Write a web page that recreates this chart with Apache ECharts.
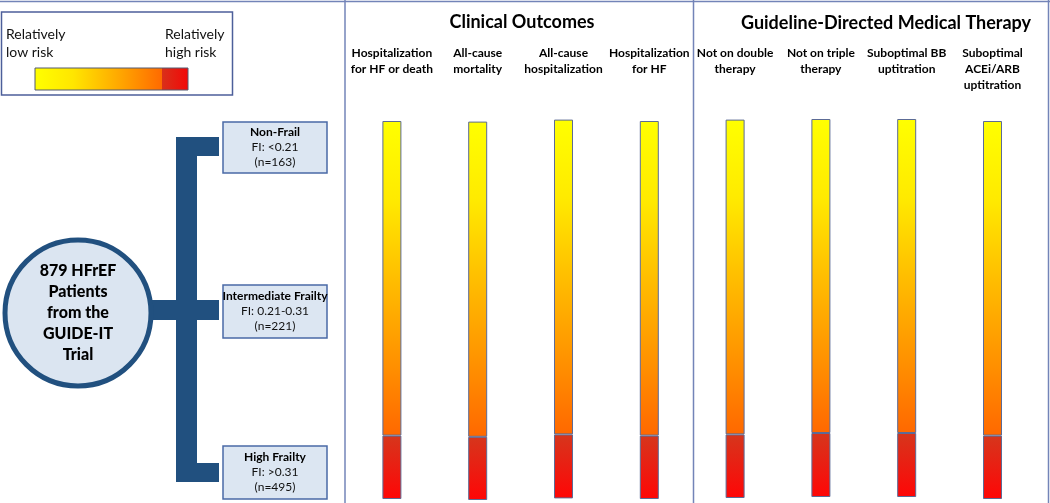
<!DOCTYPE html>
<html>
<head>
<meta charset="utf-8">
<script src="https://cdn.jsdelivr.net/npm/echarts@6/dist/echarts.min.js"></script>
<style>html,body{margin:0;padding:0;background:#fff}#c{width:1050px;height:503px}</style>
</head>
<body>
<div id="c"></div>
<script>
// ---- data ----
var outcomeLabels = [
  'Hospitalization\nfor HF or death', 'All-cause\nmortality', 'All-cause\nhospitalization', 'Hospitalization\nfor HF',
  'Not on double\ntherapy', 'Not on triple\ntherapy', 'Suboptimal BB\nuptitration', 'Suboptimal\nACEi/ARB\nuptitration'
];
var sectionTitles = ['Clinical Outcomes', 'Guideline-Directed Medical Therapy'];
// risk scale positions (0 = top of panel, 100 = bottom)
var barTop    = [5.25, 5.4, 4.9, 5.25, 4.9, 4.75, 4.75, 5.25];
var redStart  = [83.9, 84.2, 83.6, 83.9, 83.6, 83.25, 83.25, 83.9];
var barBottom = [99.75, 100, 99.6, 99.75, 99.5, 99.25, 99.25, 99.75];
var groupNames = ['Non-Frail', 'Intermediate Frailty', 'High Frailty'];
var groupFI = ['FI: <0.21', 'FI: 0.21-0.31', 'FI: >0.31'];
var groupN = [163, 221, 495];
var cohortLabel = '879 HFrEF\nPatients\nfrom the\nGUIDE-IT\nTrial';
var legendLow = 'Relatively\nlow risk';
var legendHigh = 'Relatively\nhigh risk';

// ---- derived ----
var gradSeg = barTop.map(function (t, i) { return +(redStart[i] - t).toFixed(2); });
var redSeg = redStart.map(function (r, i) { return +(barBottom[i] - r).toFixed(2); });

var FONT = 'Lato, "Noto Sans", sans-serif';
var BLUE = '#21507f';
var LINE = '#7384b8';

var chart = echarts.init(document.getElementById('c'), null, { renderer: 'canvas' });

var yellowOrange = new echarts.graphic.LinearGradient(0, 0, 0, 1, [
  { offset: 0, color: '#ffff00' },
  { offset: 0.25, color: '#ffea00' },
  { offset: 0.5, color: '#ffbe00' },
  { offset: 0.8, color: '#ff8c00' },
  { offset: 1, color: '#ff6800' }
]);
var redGrad = new echarts.graphic.LinearGradient(0, 0, 0, 1, [
  { offset: 0, color: '#d6361c' },
  { offset: 0.5, color: '#ea1e12' },
  { offset: 1, color: '#ff0606' }
]);

var boxTops = [122, 285, 446];
var boxHeights = [51, 53, 53];
var graphics = [];
// frame lines
graphics.push({ type: 'line', shape: { x1: 0, y1: 1.5, x2: 1050, y2: 1.5 }, style: { stroke: LINE, lineWidth: 1.5 }, z: 1 });
graphics.push({ type: 'line', shape: { x1: 345, y1: 0, x2: 345, y2: 503 }, style: { stroke: LINE, lineWidth: 1.5 }, z: 1 });
graphics.push({ type: 'line', shape: { x1: 693.5, y1: 0, x2: 693.5, y2: 503 }, style: { stroke: LINE, lineWidth: 1.5 }, z: 1 });
graphics.push({ type: 'line', shape: { x1: 1048.5, y1: 0, x2: 1048.5, y2: 503 }, style: { stroke: LINE, lineWidth: 1.5 }, z: 1 });
// legend box
graphics.push({ type: 'rect', shape: { x: 1.5, y: 12, width: 231, height: 83 }, style: { fill: '#fff', stroke: '#4d5f9a', lineWidth: 1.5 }, z: 2 });
graphics.push({ type: 'text', x: 6, y: 25, style: { text: legendLow, font: '14px ' + FONT, lineHeight: 18, fill: '#111' }, z: 3 });
graphics.push({ type: 'text', x: 165, y: 25, style: { text: legendHigh, font: '14px ' + FONT, lineHeight: 18, fill: '#111' }, z: 3 });
graphics.push({ type: 'rect', shape: { x: 35, y: 68, width: 127, height: 22 },
  style: { fill: new echarts.graphic.LinearGradient(0, 0, 1, 0, [
    { offset: 0, color: '#ffff00' }, { offset: 0.3, color: '#ffe600' },
    { offset: 0.65, color: '#ffaa00' }, { offset: 1, color: '#ff6a00' }]) }, z: 3 });
graphics.push({ type: 'rect', shape: { x: 162, y: 68, width: 26, height: 22 },
  style: { fill: new echarts.graphic.LinearGradient(0, 0, 1, 0, [
    { offset: 0, color: '#d9301a' }, { offset: 1, color: '#f20808' }]) }, z: 3 });
graphics.push({ type: 'rect', shape: { x: 35, y: 68, width: 153, height: 22 }, style: { fill: 'none', stroke: '#555a70', lineWidth: 1 }, z: 4 });
// bracket
graphics.push({ type: 'rect', shape: { x: 176, y: 137, width: 21, height: 345 }, style: { fill: BLUE }, z: 2 });
graphics.push({ type: 'rect', shape: { x: 176, y: 137, width: 43, height: 19 }, style: { fill: BLUE }, z: 2 });
graphics.push({ type: 'rect', shape: { x: 140, y: 300, width: 79, height: 20 }, style: { fill: BLUE }, z: 2 });
graphics.push({ type: 'rect', shape: { x: 176, y: 463, width: 43, height: 19 }, style: { fill: BLUE }, z: 2 });
// cohort circle
graphics.push({ type: 'circle', shape: { cx: 78, cy: 313, r: 73 }, style: { fill: '#dbe5f1', stroke: BLUE, lineWidth: 5 }, z: 3 });
graphics.push({ type: 'text', x: 78, y: 313, style: { text: cohortLabel, font: '900 16px ' + FONT, lineHeight: 21, fill: '#000', align: 'center', verticalAlign: 'middle' }, z: 4 });
// frailty group boxes
groupNames.forEach(function (name, i) {
  graphics.push({ type: 'rect', shape: { x: 223, y: boxTops[i], width: 104, height: boxHeights[i] },
    style: { fill: '#dce6f2', stroke: '#4a6aa6', lineWidth: 1.5 }, z: 3 });
  graphics.push({ type: 'text', x: 275, y: boxTops[i] + boxHeights[i] / 2,
    style: {
      text: '{b|' + name + '}\n{n|' + groupFI[i] + '}\n{n|(n=' + groupN[i] + ')}',
      align: 'center', verticalAlign: 'middle', fill: '#111',
      rich: {
        b: { font: 'bold 12px ' + FONT, lineHeight: 15, fill: '#000', align: 'center' },
        n: { font: '12px ' + FONT, lineHeight: 15, fill: '#111', align: 'center' }
      }
    }, z: 4 });
});

var option = {
  backgroundColor: '#ffffff',
  animation: false,
  textStyle: { fontFamily: FONT },
  title: [
    { text: sectionTitles[0], left: 517, top: 8, textAlign: 'center',
      textStyle: { fontSize: 18, fontWeight: 'bold', color: '#000', fontFamily: FONT } },
    { text: sectionTitles[1], left: 881, top: 9, textAlign: 'center',
      textStyle: { fontSize: 18, fontWeight: 'bold', color: '#000', fontFamily: FONT } }
  ],
  grid: { left: 349, right: 14.6, top: 100, bottom: 3, containLabel: false },
  xAxis: {
    type: 'category', position: 'top', data: outcomeLabels,
    axisLine: { show: false }, axisTick: { show: false }, splitLine: { show: false },
    axisLabel: { interval: 0, margin: 55, verticalAlign: 'top', align: 'center',
      fontSize: 12, fontWeight: 'bold', lineHeight: 16, color: '#000', fontFamily: FONT }
  },
  yAxis: { type: 'value', inverse: true, min: 0, max: 100, show: false },
  series: [
    { type: 'bar', stack: 'risk', data: barTop, barWidth: 19, itemStyle: { color: 'transparent' }, silent: true },
    { type: 'bar', stack: 'risk', data: gradSeg, barWidth: 19,
      itemStyle: { color: yellowOrange, borderColor: '#5c6b96', borderWidth: 1 } },
    { type: 'bar', stack: 'risk', data: redSeg, barWidth: 19,
      itemStyle: { color: redGrad, borderColor: '#5c6b96', borderWidth: 1 } }
  ],
  graphic: graphics
};
chart.setOption(option);
</script>
</body>
</html>
